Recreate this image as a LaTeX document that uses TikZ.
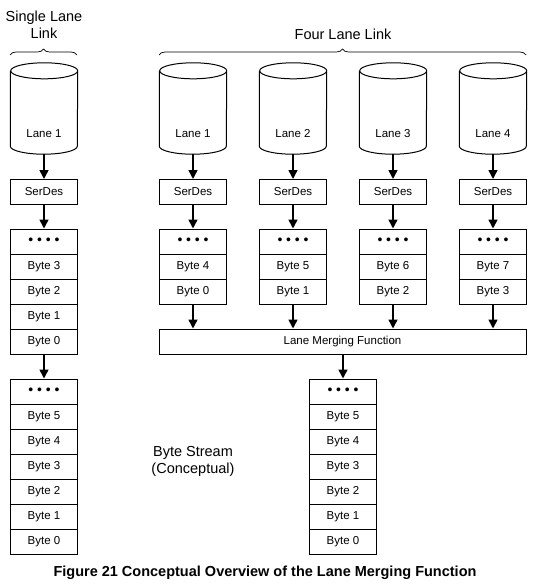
\documentclass[tikz,border=0pt]{standalone}
\usepackage{fontspec}
\setmainfont{Liberation Sans}
\usetikzlibrary{arrows.meta,decorations.pathreplacing}
\newcommand{\fourdots}{{\fontsize{14}{14}\selectfont\textbullet\hspace{3.8pt}\textbullet\hspace{3.8pt}\textbullet\hspace{3.8pt}\textbullet}}
\begin{document}
\begin{tikzpicture}[x=1pt,y=-1pt,font=\fontsize{11.5}{13}\selectfont,
    >={Triangle[width=9pt,length=9pt]}]
    \tikzstyle{lane}=[rectangle,minimum width=67pt,minimum height=91pt,inner sep=0pt]
    \tikzstyle{drum}=[line width=1pt]
    \tikzstyle{cell}=[rectangle,draw,line width=1pt,minimum width=67pt,
      minimum height=25pt,inner sep=0pt]
    \tikzstyle{link}=[->,line width=1.6pt]
    \tikzstyle{title}=[font=\fontsize{14.5}{17}\selectfont,align=center]
    \tikzstyle{brace}=[decorate,decoration={brace,amplitude=6pt},line width=0.7pt]

    \useasboundingbox (0,0) rectangle (538,588);

    % lanes drawn as cylinders, single lane at 0
    \foreach \i/\x in {0/44,1/193,2/293,3/393,4/493}
    {
      \node[lane,label={[yshift=-25pt]center:Lane \ifnum\i=0 1\else\i\fi}] (L-\i) at (\x,108.5) {};
      \draw[drum] ([yshift=-8pt]L-\i.north west) -- ([yshift=8pt]L-\i.south west)
        arc[start angle=180,end angle=360,x radius=33.5pt,y radius=8pt]
        -- ([yshift=-8pt]L-\i.north east)
        arc[start angle=0,end angle=360,x radius=33.5pt,y radius=8pt];
      \node[cell] (S-\i) at (\x,192) {SerDes};
      \node[cell] (A-\i-0) at (\x,241.5) {\fourdots};
      \draw[link] (L-\i) -- (S-\i);
      \draw[link] (S-\i) -- (A-\i-0);
    }

    % single lane link
    \node[title] (single) at (44,25) {Single Lane\\Link};
    \draw[brace] (10,55) -- (77,55);
    \foreach \r/\b in {1/3,2/2,3/1,4/0}
    \node[cell] (A-0-\r) at (44,241.5+25*\r) {Byte \b};

    % four lane link
    \node[title] (four) at (343,34) {Four Lane Link};
    \draw[brace] (159,55) -- (526,55);
    \foreach \i/\hi/\lo in {1/4/0,2/5/1,3/6/2,4/7/3}
    {
      \node[cell] (A-\i-1) at (93+100*\i,266.5) {Byte \hi};
      \node[cell] (A-\i-2) at (93+100*\i,291.5) {Byte \lo};
    }

    % lane merging
    \node[cell,minimum width=367pt] (M) at (342.5,341.5) {Lane Merging Function};
    \foreach \i in {1,...,4}
    \draw[link] (A-\i-2) -- (A-\i-2 |- M.north);

    % byte streams
    \foreach \x/\s in {44/P,343/Q}
    {
      \node[cell] (\s-0) at (\x,391.5) {\fourdots};
      \foreach \r/\b in {1/5,2/4,3/3,4/2,5/1,6/0}
      \node[cell] (\s-\r) at (\x,391.5+25*\r) {Byte \b};
    }
    \draw[link] (A-0-4) -- (P-0);
    \draw[link] (M.south -| Q-0.north) -- (Q-0);
    \node[title] (stream) at (193,461.5) {Byte Stream\\(Conceptual)};

    \node[font=\fontsize{14.5}{17}\selectfont\bfseries] (caption) at (265,573)
      {Figure 21 Conceptual Overview of the Lane Merging Function};
\end{tikzpicture}
\end{document}
